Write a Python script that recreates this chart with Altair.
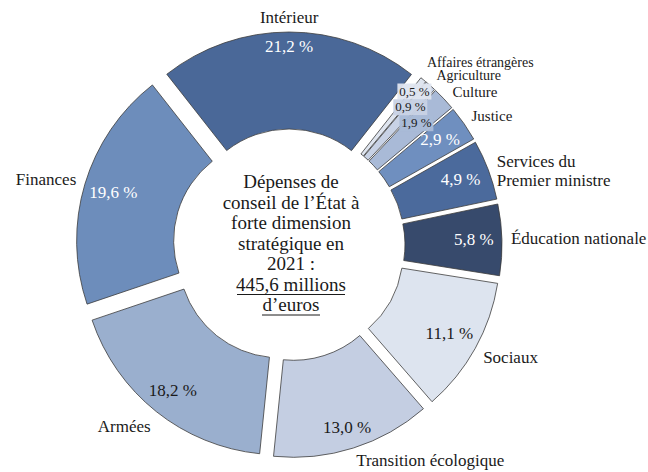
import math
import altair as alt
import pandas as pd

# ---------------- data ----------------
categories = ["Affaires étrangères", "Agriculture", "Culture", "Justice",
              "Services du Premier ministre", "Éducation nationale", "Sociaux",
              "Transition écologique", "Armées", "Finances", "Intérieur"]
shares = [0.5, 0.9, 1.9, 2.9, 4.9, 5.8, 11.1, 13.0, 18.2, 19.6, 21.2]
label_texts = ["Affaires étrangères", "Agriculture", "Culture", "Justice",
               "Services du\nPremier ministre", "Éducation nationale", "Sociaux",
               "Transition écologique", "Armées", "Finances", "Intérieur"]
center_title = ["Dépenses de", "conseil de l’État à", "forte dimension",
                "stratégique en", "2021 :"]
center_total = ["445,6 millions", "d’euros"]

# ---------------- styles / layout ----------------
slice_colors = ["#dfe5ef", "#c8d2e5", "#a9bad7", "#6f8fbf", "#4b6a9c", "#374a6c",
                "#dde4ef", "#c4cee2", "#9aafce", "#6d8dbb", "#4a6898"]
text_colors = ["#1a1a1a", "#1a1a1a", "#1a1a1a", "#ffffff", "#ffffff", "#ffffff",
               "#1a1a1a", "#1a1a1a", "#1a1a1a", "#ffffff", "#ffffff"]
label_sizes = [14, 14, 15, 15, 17, 17, 17, 17, 17, 17, 17]
# small nudges (px) to resolve overlapping labels of the thin slices
pct_nudge_x = [8, -2, -7, 0, 0, 0, 0, 0, 0, 0, 0]
pct_nudge_y = [-9, 1, 5, 0, 0, 0, 0, 0, 0, 0, 0]
lab_nudge_x = [-2, 0, 2, 0, 0, 0, 0, 0, 0, 0, 0]
lab_nudge_y = [-6, 1, 3, 0, -3, 0, 3, 0, 4, 0, 0]

W, H = 648, 472
CX, CY = 289, 245
R_OUT, R_IN = 198, 101
EXPLODE = 15
START = 38.2 * math.pi / 180
LABEL_R = 222
FONT = "Liberation Serif"
LH_CENTER = 20.5
TITLE_Y = 182

df = pd.DataFrame({
    "idx": list(range(len(categories))),
    "cat": categories,
    "value": shares,
    "label": label_texts,
    "fill": slice_colors,
    "tcolor": text_colors,
    "fs": label_sizes,
    "pnx": pct_nudge_x, "pny": pct_nudge_y,
    "lnx": lab_nudge_x, "lny": lab_nudge_y,
})

xs = alt.Scale(domain=[-CX, W - CX], range=[0, W], nice=False, zero=False)
ys = alt.Scale(domain=[-CY, H - CY], range=[0, H], nice=False, zero=False)

base = (
    alt.Chart(df)
    .transform_window(cum="sum(value)", sort=[alt.SortField("idx")])
    .transform_calculate(start="datum.cum - datum.value")
    .transform_calculate(end="datum.cum")
    .transform_calculate(ang=f"{START} + (datum.cum - datum.value/2)/100*2*PI")
    .transform_calculate(s="sin(datum.ang)")
    .transform_calculate(c="cos(datum.ang)")
    .transform_calculate(ex=f"{EXPLODE}*datum.s")
    .transform_calculate(ey=f"-{EXPLODE}*datum.c")
    .transform_calculate(pr=f"{EXPLODE + R_OUT - 6} - 22*abs(datum.s) - 9*abs(datum.c)")
    .transform_calculate(px="datum.pr*datum.s + datum.pnx")
    .transform_calculate(py="-datum.pr*datum.c + datum.pny")
    .transform_calculate(lx=f"{LABEL_R}*datum.s + datum.lnx")
    .transform_calculate(ly=f"-{LABEL_R + 5}*datum.c + datum.lny")
    .transform_calculate(pct="replace(format(datum.value, '.1f'), '.', ',') + ' %'")
)

arcs = base.mark_arc(outerRadius=R_OUT, innerRadius=R_IN, stroke="#3c3c3c",
                     strokeWidth=0.8).encode(
    x=alt.X("ex:Q", scale=xs, axis=None),
    y=alt.Y("ey:Q", scale=ys, axis=None),
    theta=alt.Theta("start:Q", scale=alt.Scale(domain=[0, 100],
                                               range=[START, START + 2 * math.pi]),
                    stack=None),
    theta2="end:Q",
    fill=alt.Fill("fill:N", scale=None),
)

pct_big = base.transform_filter("datum.value >= 2").mark_text(
    font=FONT, fontSize=17, baseline="middle", align="center").encode(
    x=alt.X("px:Q", scale=xs, axis=None),
    y=alt.Y("py:Q", scale=ys, axis=None),
    text="pct:N",
    color=alt.Color("tcolor:N", scale=None),
)

boxes = base.transform_filter("datum.value < 2").transform_calculate(
    bx1="datum.px - 17", bx2="datum.px + 17",
    by1="datum.py - 8", by2="datum.py + 8").mark_rect(opacity=0.95).encode(
    x=alt.X("bx1:Q", scale=xs, axis=None), x2="bx2:Q",
    y=alt.Y("by1:Q", scale=ys, axis=None), y2="by2:Q",
    fill=alt.Fill("fill:N", scale=None),
)

pct_small = base.transform_filter("datum.value < 2").mark_text(
    font=FONT, fontSize=13, baseline="middle", align="center").encode(
    x=alt.X("px:Q", scale=xs, axis=None),
    y=alt.Y("py:Q", scale=ys, axis=None),
    text="pct:N",
    color=alt.Color("tcolor:N", scale=None),
)

def cat_labels(filt, align):
    return base.transform_filter(filt).mark_text(
        font=FONT, baseline="middle", align=align,
        lineBreak="\n", lineHeight=19, color="#1a1a1a").encode(
        x=alt.X("lx:Q", scale=xs, axis=None),
        y=alt.Y("ly:Q", scale=ys, axis=None),
        text="label:N",
        size=alt.Size("fs:Q", scale=None, legend=None),
    )

labels_r = cat_labels("datum.s > 0.1", "left")
labels_l = cat_labels("datum.s < -0.1", "right")
labels_c = cat_labels("abs(datum.s) <= 0.1", "center")

one = alt.Data(values=[{}])
TOTAL_Y = TITLE_Y + LH_CENTER * len(center_title)
title_txt = alt.Chart(one).mark_text(
    text=center_title, font=FONT, fontSize=19, lineHeight=LH_CENTER,
    baseline="middle", align="center", color="#1a1a1a").encode(
    x=alt.value(CX + 2), y=alt.value(TITLE_Y))
total_txt = alt.Chart(one).mark_text(
    text=center_total, font=FONT, fontSize=19, lineHeight=LH_CENTER,
    baseline="middle", align="center", color="#1a1a1a").encode(
    x=alt.value(CX + 2), y=alt.value(TOTAL_Y))
ul1 = alt.Chart(one).mark_rule(color="#1a1a1a", strokeWidth=1).encode(
    x=alt.value(CX + 2 - 54), x2=alt.value(CX + 2 + 54), y=alt.value(TOTAL_Y + 10))
ul2 = alt.Chart(one).mark_rule(color="#1a1a1a", strokeWidth=1).encode(
    x=alt.value(CX + 2 - 29), x2=alt.value(CX + 2 + 29),
    y=alt.value(TOTAL_Y + 10 + LH_CENTER))

chart = alt.layer(arcs, pct_big, boxes, pct_small, labels_r, labels_l, labels_c,
                  title_txt, total_txt, ul1, ul2).properties(
    width=W, height=H, padding=0, autosize="none"
).configure_view(stroke=None)

chart.save("out.html", embed_options={"renderer": "svg", "actions": False})
